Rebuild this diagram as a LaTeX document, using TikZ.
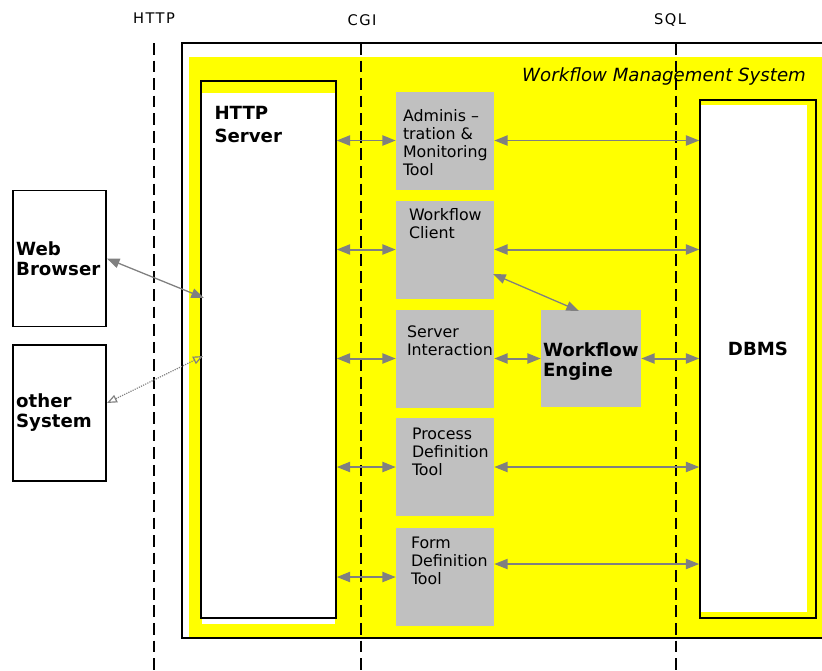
\documentclass[tikz,border=0pt]{standalone}
\usepackage{fontspec}
\setmainfont{DejaVu Sans}
\usetikzlibrary{arrows.meta,calc}
\definecolor{wmsyellow}{RGB}{255,255,0}
\definecolor{boxgray}{RGB}{192,192,192}
\definecolor{linkgray}{RGB}{128,128,128}

\begin{document}
\begin{tikzpicture}[x=0.03cm, y=-0.03cm,
  tool/.style={fill=boxgray, minimum width=2.94cm, minimum height=2.94cm, inner sep=0pt},
  toollbl/.style={anchor=north west, align=left, inner sep=0pt, font=\fontsize{13.5}{15.5}\selectfont},
  boldlbl/.style={font=\fontsize{15.5}{17}\selectfont\bfseries},
  extsys/.style={draw, line width=1.2pt, fill=white, minimum width=2.79cm, minimum height=4.08cm, text width=2.6cm, inner xsep=0.1cm, align=left, boldlbl},
  iface/.style={font=\fontsize{12.5}{14}\selectfont\addfontfeatures{LetterSpace=10}},
  divider/.style={line width=1.2pt, dash pattern=on 10pt off 5pt},
  link/.style={linkgray, line width=1.7pt, {Triangle[length=4mm,width=3mm]}-{Triangle[length=4mm,width=3mm]}},
  thinlink/.style={linkgray, line width=1.1pt, {Triangle[length=3.8mm,width=2.9mm]}-{Triangle[length=3.8mm,width=2.9mm]}},
  openlink/.style={linkgray, line width=1pt, densely dotted, {Triangle[open,length=3mm,width=2.4mm]}-{Triangle[open,length=3mm,width=2.4mm]}}]
\useasboundingbox (0,0) rectangle (822,670);
\fill[wmsyellow] (189,57) rectangle (822,638);
\draw[line width=1.2pt] (822,43) -- (182,43) -- (182,638) -- (822,638);
\node[anchor=east, font=\fontsize{15.5}{18}\selectfont\itshape] (wms) at (810,76) {Workflow Management System};

\node[iface] (lhttp) at (154,18) {HTTP};
\node[iface] (lcgi) at (362,20) {CGI};
\node[iface] (lsql) at (670,20) {SQL};
\draw[divider] (154,43) -- (154,670);
\draw[divider] (361,43) -- (361,670);
\draw[divider] (676,43) -- (676,670);

\fill[white] (202,93) rectangle (335,624);
\node[draw, line width=1.2pt, minimum width=4.05cm, minimum height=16.11cm, inner sep=0pt,
  label={[anchor=north west, align=left, inner sep=0pt, xshift=0.42cm, yshift=-0.78cm, font=\fontsize{15.5}{19.5}\selectfont\bfseries]north west:HTTP\\Server}] (http) at (268.5,349.5) {};

\fill[white] (701,105) rectangle (807,612);
\node[draw, line width=1.2pt, minimum width=3.48cm, minimum height=15.54cm, inner sep=0pt,
  label={[boldlbl, yshift=0.3cm]center:DBMS}] (dbms) at (758,359) {};

\node[tool, label={[toollbl, xshift=0.21cm, yshift=-0.54cm]north west:Adminis –\\tration \&\\Monitoring\\Tool}] (adm) at (445,140.5) {};
\node[tool, label={[toollbl, xshift=0.39cm, yshift=-0.24cm]north west:Workflow\\Client}] (wfc) at (445,249.5) {};
\node[tool, label={[toollbl, xshift=0.33cm, yshift=-0.48cm]north west:Server\\Interaction}] (sia) at (445,358.5) {};
\node[tool, label={[toollbl, xshift=0.48cm, yshift=-0.3cm]north west:Process\\Definition\\Tool}] (pdt) at (445,467) {};
\node[tool, label={[toollbl, xshift=0.45cm, yshift=-0.27cm]north west:Form\\Definition\\Tool}] (fdt) at (445,577) {};
\node[tool, minimum width=3cm, minimum height=2.91cm,
  label={[anchor=north west, align=left, inner sep=0pt, xshift=0.06cm, yshift=-0.99cm, font=\fontsize{15.5}{17}\selectfont\bfseries]north west:Workflow\\Engine}] (eng) at (591,358.5) {};

\node[extsys] (wb) at (59.5,258.5) {Web\\Browser};
\node[extsys] (os) at (59.5,413) {other\\System};

\draw[link] (http.east |- adm.west) -- (adm.west);
\draw[link] (http.east |- wfc.west) -- (wfc.west);
\draw[link] (http.east |- sia.west) -- (sia.west);
\draw[link] (http.east |- pdt.west) -- (pdt.west);
\draw[link] (http.east |- fdt.west) -- (fdt.west);
\draw[link] (adm.east) -- (adm.east -| dbms.west);
\draw[link] (wfc.east) -- (wfc.east -| dbms.west);
\draw[link] (pdt.east) -- (pdt.east -| dbms.west);
\coordinate (fdtout) at ($(fdt.east)+(0,-13)$);
\draw[link] (fdtout) -- (fdtout -| dbms.west);
\draw[link] (sia.east) -- (eng.west);
\draw[link] (eng.east) -- (eng.east -| dbms.west);

\coordinate (wfcout) at (493,274);
\coordinate (engin) at (579,311);
\draw[thinlink] (wfcout) -- (engin);
\coordinate (httpa) at (204,298);
\draw[thinlink] (wb.east) -- (httpa);
\coordinate (osout) at (107,403);
\coordinate (httpb) at (203,356);
\draw[openlink] (osout) -- (httpb);
\end{tikzpicture}
\end{document}
